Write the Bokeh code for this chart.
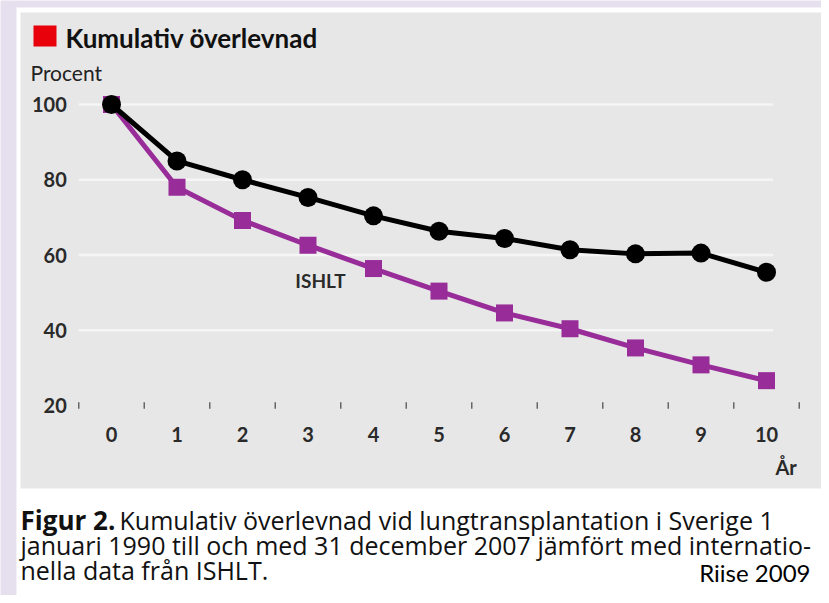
from bokeh.plotting import figure
from bokeh.models import Range1d
from bokeh.core.properties import value
from bokeh.embed import file_html
from bokeh.resources import INLINE

# ---- data ----
years = [0, 1, 2, 3, 4, 5, 6, 7, 8, 9, 10]
sverige = [100, 85, 80, 75.3, 70.4, 66.3, 64.4, 61.4, 60.3, 60.5, 55.4]
ishlt = [100, 78, 69.2, 62.6, 56.4, 50.4, 44.6, 40.4, 35.3, 30.8, 26.6]
y_ticks = [20, 40, 60, 80, 100]
x_tick_labels = ["0", "1", "2", "3", "4", "5", "6", "7", "8", "9", "10"]

title_text = "Kumulativ överlevnad"
y_unit = "Procent"
x_unit = "År"
series_label = "ISHLT"
caption_bold = "Figur 2."
caption_lines = [
    "Kumulativ överlevnad vid lungtransplantation i Sverige 1",
    "januari 1990 till och med 31 december 2007 jämfört med internatio-",
    "nella data från ISHLT.",
]
source_text = "Riise 2009"

# ---- layout (picture pixels) ----
W, H = 821, 595
OFF = 0
X0_PX, X_SCALE = 111, 65.5          # px of year 0, px per year
Y100_PX, Y_SCALE = 104, 301 / 80.0  # px of 100 %, px per percent


def X(px):
    return (px - X0_PX) / X_SCALE


def Y(py):
    return 100 - (py - Y100_PX) / Y_SCALE


p = figure(width=W, height=H, output_backend="svg", toolbar_location=None,
           x_axis_type=None, y_axis_type=None, min_border=0,
           x_range=Range1d(X(OFF), X(OFF + W)), y_range=Range1d(Y(OFF + H), Y(OFF)))
p.outline_line_color = None
p.background_fill_color = "#e6e0ee"
p.border_fill_color = "#e6e0ee"
p.grid.visible = False

# panels
p.quad(left=X(16), right=X(900), top=Y(7), bottom=Y(700), fill_color="white", line_color=None)
p.quad(left=X(20), right=X(822), top=Y(12), bottom=Y(488), fill_color="#e7e7e7", line_color=None)

# gridlines (all y ticks except the baseline)
grid_vals = y_ticks[1:]
p.segment(x0=[-0.5] * len(grid_vals), x1=[10.1] * len(grid_vals), y0=grid_vals, y1=grid_vals,
          line_color="#f5f5f5", line_width=2.5)

# x tick marks between years
tick_pos = [y - 0.5 for y in years] + [years[-1] + 0.5]
base = y_ticks[0]
p.segment(x0=tick_pos, x1=tick_pos, y0=[base - 0.85] * len(tick_pos), y1=[base + 0.85] * len(tick_pos),
          line_color="#666666", line_width=1.5)

# tick labels
lab = dict(text_font=value("Lato"), text_font_style="bold", text_font_size="20px", text_color="#2a2a2a")
p.text(x=[-0.5] * len(y_ticks), y=y_ticks, text=[str(v) for v in y_ticks], x_offset=-12,
       text_align="right", text_baseline="middle", **lab)
p.text(x=years, y=[base] * len(years), text=x_tick_labels, y_offset=29,
       text_align="center", text_baseline="middle", **lab)
p.text(x=[10.3], y=[base], text=[x_unit], y_offset=61, text_align="center", text_baseline="middle", **lab)

# series
purple = "#982c98"
p.line(years, ishlt, line_color=purple, line_width=5)
p.scatter(years, ishlt, marker="square", size=17, fill_color=purple, line_color=None)
p.line(years, sverige, line_color="black", line_width=5)
p.scatter(years, sverige, marker="circle", size=19, fill_color="black", line_color=None)

p.text(x=[X(320)], y=[Y(280)], text=[series_label], text_align="center", text_baseline="middle",
       text_font=value("Lato"), text_font_style="bold", text_font_size="19px", text_color="#2a2a2a")

# title
p.quad(left=X(33), right=X(56), top=Y(25), bottom=Y(46), fill_color="#e8000b", line_color=None)
p.text(x=[X(65)], y=[Y(37)], text=[title_text], text_align="left", text_baseline="middle",
       text_font=value("Lato"), text_font_style="bold", text_font_size="26px", text_color="#111111")
p.text(x=[X(30)], y=[Y(72)], text=[y_unit], text_align="left", text_baseline="middle",
       text_font=value("Lato"), text_font_size="21px", text_color="#222222")

# caption
cap = dict(text_font=value("Open Sans"), text_font_size="25px", text_color="#111111",
           text_align="left", text_baseline="alphabetic")
p.text(x=[X(20)], y=[Y(519)], text=[caption_bold], text_font=value("Open Sans"), text_font_style="bold",
       text_font_size="26px", text_color="#111111", text_align="left", text_baseline="alphabetic")
p.text(x=[X(119)], y=[Y(519)], text=[caption_lines[0]], **cap)
p.text(x=[X(20)] * 2, y=[Y(544), Y(569)], text=caption_lines[1:], **cap)
p.text(x=[X(810)], y=[Y(572)], text=[source_text], text_align="right", text_baseline="middle",
       text_font=value("Lato"), text_font_size="24px", text_color="#000000")

open("out.html", "w").write(file_html(p, INLINE))
